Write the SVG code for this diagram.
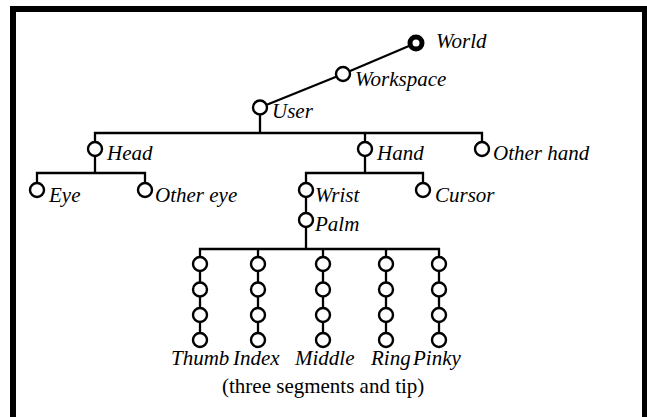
<svg xmlns="http://www.w3.org/2000/svg" width="647" height="417" viewBox="0 0 647 417">
  <style>
    .edge { stroke: #000; stroke-width: 2.3; fill: none; }
    .node { fill: #fff; stroke: #000; stroke-width: 2.4; }
    .root { fill: #fff; stroke: #000; stroke-width: 5; }
    .lbl { font-family: "Liberation Serif", "Times New Roman", Times, serif; font-style: italic; font-size: 21px; fill: #000; }
    .note { font-family: "Liberation Serif", "Times New Roman", Times, serif; font-size: 21px; fill: #000; }
  </style>
  <defs>
    <circle id="joint" r="7" class="node"/>
  </defs>

  <!-- frame -->
  <rect x="0" y="0" width="647" height="417" fill="#fff"/>
  <rect x="10" y="6" width="637" height="6" fill="#000"/>
  <rect x="10" y="6" width="6" height="411" fill="#000"/>
  <rect x="642" y="6" width="5" height="411" fill="#000"/>

  <!-- connectors -->
  <g id="connectors" class="edge">
    <line x1="260" y1="107.5" x2="343" y2="74"/>
    <line x1="343" y1="74" x2="416" y2="43"/>
    <line x1="260" y1="107.5" x2="260" y2="133"/>
    <polyline points="95,149 95,133 482,133 482,149"/>
    <line x1="365" y1="133" x2="365" y2="149"/>
    <polyline points="37,190 37,173 145,173 145,190"/>
    <line x1="95" y1="149" x2="95" y2="173"/>
    <polyline points="306,190 306,173 423,173 423,190"/>
    <line x1="365" y1="149" x2="365" y2="173"/>
    <line x1="306" y1="190" x2="306" y2="249"/>
    <polyline points="200,264 200,249 439,249 439,264"/>
    <line x1="258" y1="249" x2="258" y2="264"/>
    <line x1="323" y1="249" x2="323" y2="264"/>
    <line x1="386" y1="249" x2="386" y2="264"/>
    <line x1="200" y1="264" x2="200" y2="340"/>
    <line x1="258" y1="264" x2="258" y2="340"/>
    <line x1="323" y1="264" x2="323" y2="340"/>
    <line x1="386" y1="264" x2="386" y2="340"/>
    <line x1="439" y1="264" x2="439" y2="340"/>
  </g>

  <g id="world">
    <circle cx="416" cy="43" r="6" class="root"/>
    <text x="436" y="48" class="lbl">World</text>
  </g>
  <g id="workspace">
    <use href="#joint" x="343" y="74"/>
    <text x="355" y="86" class="lbl">Workspace</text>
  </g>
  <g id="user">
    <use href="#joint" x="260" y="107.5"/>
    <text x="272" y="118" class="lbl">User</text>
  </g>
  <g id="head">
    <use href="#joint" x="95" y="149"/>
    <text x="107" y="160" class="lbl">Head</text>
  </g>
  <g id="hand">
    <use href="#joint" x="365" y="149"/>
    <text x="377" y="160" class="lbl">Hand</text>
  </g>
  <g id="other-hand">
    <use href="#joint" x="482" y="149"/>
    <text x="493" y="160" class="lbl">Other hand</text>
  </g>
  <g id="eye">
    <use href="#joint" x="37" y="190"/>
    <text x="49" y="202" class="lbl">Eye</text>
  </g>
  <g id="other-eye">
    <use href="#joint" x="145" y="190"/>
    <text x="155" y="202" class="lbl">Other eye</text>
  </g>
  <g id="wrist">
    <use href="#joint" x="306" y="190"/>
    <text x="315" y="202" class="lbl">Wrist</text>
  </g>
  <g id="cursor">
    <use href="#joint" x="423" y="190"/>
    <text x="435" y="202" class="lbl">Cursor</text>
  </g>
  <g id="palm">
    <use href="#joint" x="306" y="220"/>
    <text x="315" y="231" class="lbl">Palm</text>
  </g>

  <!-- fingers: three segments and a tip each -->
  <g id="thumb">
    <use href="#joint" x="200" y="264"/>
    <use href="#joint" x="200" y="289.5"/>
    <use href="#joint" x="200" y="315"/>
    <use href="#joint" x="200" y="340"/>
    <text x="171" y="365" class="lbl">Thumb</text>
  </g>
  <g id="index">
    <use href="#joint" x="258" y="264"/>
    <use href="#joint" x="258" y="289.5"/>
    <use href="#joint" x="258" y="315"/>
    <use href="#joint" x="258" y="340"/>
    <text x="233" y="365" class="lbl">Index</text>
  </g>
  <g id="middle">
    <use href="#joint" x="323" y="264"/>
    <use href="#joint" x="323" y="289.5"/>
    <use href="#joint" x="323" y="315"/>
    <use href="#joint" x="323" y="340"/>
    <text x="295" y="365" class="lbl">Middle</text>
  </g>
  <g id="ring">
    <use href="#joint" x="386" y="264"/>
    <use href="#joint" x="386" y="289.5"/>
    <use href="#joint" x="386" y="315"/>
    <use href="#joint" x="386" y="340"/>
    <text x="371" y="365" class="lbl">Ring</text>
  </g>
  <g id="pinky">
    <use href="#joint" x="439" y="264"/>
    <use href="#joint" x="439" y="289.5"/>
    <use href="#joint" x="439" y="315"/>
    <use href="#joint" x="439" y="340"/>
    <text x="413" y="365" class="lbl">Pinky</text>
  </g>

  <text x="222" y="393" class="note">(three segments and tip)</text>
</svg>
